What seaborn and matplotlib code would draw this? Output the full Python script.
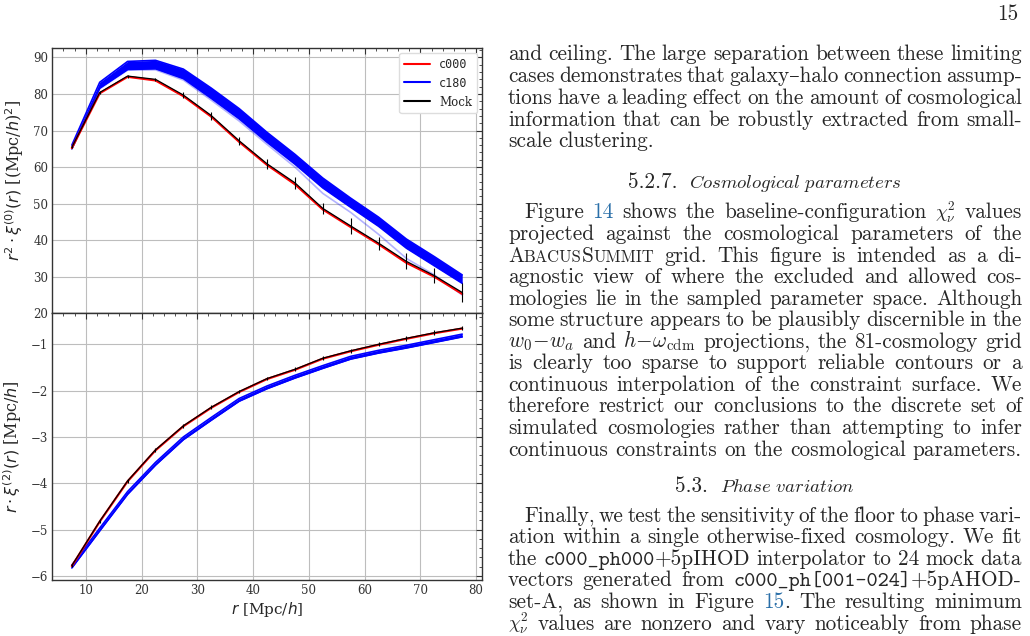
import matplotlib
matplotlib.use("Agg")
import matplotlib.pyplot as plt
import matplotlib.ticker as mticker
import seaborn as sns

# separation bins [Mpc/h]
r = [7.5, 12.5, 17.5, 22.5, 27.5, 32.5, 37.5, 42.5, 47.5, 52.5, 57.5, 62.5, 67.5, 72.5, 77.5]

# monopole r^2 xi0
mono_mock = [65.4, 80.4, 84.9, 84.0, 79.7, 74.1, 67.2, 60.9, 55.7, 48.7, 43.9, 39.2, 34.2, 30.3, 25.7]
mono_mock_err = [0.3, 0.3, 0.4, 0.5, 0.8, 1.1, 1.1, 1.3, 1.7, 1.6, 2.1, 1.8, 2.2, 2.1, 2.5]
mono_c000 = [65.2, 80.2, 84.7, 83.7, 79.4, 73.8, 66.9, 60.6, 55.3, 48.4, 43.6, 38.9, 33.8, 30.0, 25.3]
mono_c180_hi = [66.0, 83.2, 88.9, 89.2, 86.8, 81.6, 76.0, 69.5, 63.5, 57.0, 51.5, 46.3, 40.3, 35.5, 30.5]
mono_c180_lo = [65.0, 81.6, 86.7, 86.9, 84.2, 78.8, 73.2, 66.8, 60.8, 54.3, 49.0, 43.8, 37.8, 33.0, 28.2]
mono_c180_out = [65.0, 81.4, 86.5, 86.6, 83.8, 78.3, 72.6, 66.2, 60.0, 52.8, 47.6, 41.6, 35.0, 30.5, 25.0]

# quadrupole r xi2
quad_mock = [-5.78, -4.82, -3.95, -3.28, -2.76, -2.36, -2.02, -1.74, -1.54, -1.30, -1.14, -1.00, -0.87, -0.75, -0.65]
quad_mock_err = [0.04, 0.04, 0.04, 0.04, 0.04, 0.04, 0.04, 0.04, 0.04, 0.04, 0.04, 0.04, 0.05, 0.05, 0.05]
quad_c000 = [-5.79, -4.83, -3.96, -3.29, -2.77, -2.37, -2.03, -1.75, -1.55, -1.31, -1.15, -1.01, -0.88, -0.76, -0.66]
quad_c180_hi = [-5.77, -4.97, -4.18, -3.55, -3.00, -2.58, -2.17, -1.90, -1.67, -1.46, -1.26, -1.13, -1.02, -0.90, -0.78]
quad_c180_lo = [-5.83, -5.03, -4.24, -3.61, -3.06, -2.64, -2.23, -1.96, -1.73, -1.52, -1.32, -1.19, -1.08, -0.96, -0.84]

sns.set_theme(style="whitegrid")
plt.rcParams["font.family"] = ["DejaVu Serif"]
plt.rcParams.update({
    "axes.edgecolor": "#333333",
    "axes.linewidth": 1.0,
    "grid.color": "#bdbdbd",
    "grid.linewidth": 0.8,
    "xtick.direction": "in",
    "ytick.direction": "in",
    "xtick.color": "#333333",
    "ytick.color": "#333333",
})

W, H = 1030, 636
fig = plt.figure(figsize=(W / 100, H / 100), dpi=100)
fig.patch.set_facecolor("white")
ax1 = fig.add_axes([0.0508, 0.5074, 0.4169, 0.4167])
ax2 = fig.add_axes([0.0508, 0.0881, 0.4169, 0.4193])

RED, BLUE = "#ff0000", "#0000ff"

# --- monopole panel
ax1.fill_between(r, mono_c180_lo, mono_c180_hi, color=BLUE, lw=0, zorder=2)
sns.lineplot(x=r, y=mono_c180_out, ax=ax1, color=BLUE, lw=1.2, alpha=0.3, zorder=2)
sns.lineplot(x=r, y=mono_c180_hi, ax=ax1, color=BLUE, lw=1.2, zorder=2, label="c180")
sns.lineplot(x=r, y=mono_c180_lo, ax=ax1, color=BLUE, lw=1.2, zorder=2)
sns.lineplot(x=r, y=mono_c000, ax=ax1, color=RED, lw=1.6, zorder=3, label="c000")
sns.lineplot(x=r, y=mono_mock, ax=ax1, color="black", lw=0.9, zorder=4, label="Mock")
ax1.errorbar(r, mono_mock, yerr=mono_mock_err, fmt="none", ecolor="black", elinewidth=0.8, zorder=4)

# --- quadrupole panel
ax2.fill_between(r, quad_c180_lo, quad_c180_hi, color=BLUE, lw=0, zorder=2)
sns.lineplot(x=r, y=quad_c180_hi, ax=ax2, color=BLUE, lw=1.2, zorder=2)
sns.lineplot(x=r, y=quad_c180_lo, ax=ax2, color=BLUE, lw=1.2, zorder=2)
sns.lineplot(x=r, y=quad_c000, ax=ax2, color=RED, lw=1.6, zorder=3)
sns.lineplot(x=r, y=quad_mock, ax=ax2, color="black", lw=0.9, zorder=4)
ax2.errorbar(r, quad_mock, yerr=quad_mock_err, fmt="none", ecolor="black", elinewidth=0.8, zorder=4)

for ax in (ax1, ax2):
    ax.set_xlim(4, 81)
    ax.xaxis.set_major_locator(mticker.MultipleLocator(10))
    ax.xaxis.set_minor_locator(mticker.MultipleLocator(2))
    ax.tick_params(which="both", top=True, right=True, labelsize=8.5, pad=3)
    ax.tick_params(which="major", length=4, width=0.8)
    ax.tick_params(which="minor", length=2, width=0.6)
    ax.grid(True, which="major")
    ax.grid(False, which="minor")
    for s in ax.spines.values():
        s.set_color("#333333")

ax1.set_ylim(20, 92.5)
ax1.yaxis.set_major_locator(mticker.MultipleLocator(10))
ax1.yaxis.set_minor_locator(mticker.MultipleLocator(2))
ax1.tick_params(labelbottom=False)
ax1.set_ylabel(r"$r^2 \cdot \xi^{(0)}(r)$ [(Mpc/$h$)$^2$]", fontsize=11.5, labelpad=5)

ax2.set_ylim(-6.09, -0.33)
ax2.yaxis.set_major_locator(mticker.MultipleLocator(1))
ax2.yaxis.set_minor_locator(mticker.MultipleLocator(0.2))
ax2.set_ylabel(r"$r \cdot \xi^{(2)}(r)$ [Mpc/$h$]", fontsize=11.5, labelpad=5)
ax2.set_xlabel(r"$r$ [Mpc/$h$]", fontsize=11, labelpad=2)

handles, labels = ax1.get_legend_handles_labels()
order = [labels.index(k) for k in ["c000", "c180", "Mock"]]
leg = ax1.legend([handles[i] for i in order], [labels[i] for i in order],
                 loc="upper right", fontsize=8.5, handlelength=2.2,
                 borderaxespad=0.4, framealpha=1, edgecolor="#dddddd", fancybox=True)
for h in leg.legend_handles:
    h.set_linewidth(1.5)
leg.get_texts()[0].set_fontfamily("DejaVu Sans Mono")
leg.get_texts()[1].set_fontfamily("DejaVu Sans Mono")

# --- page text on the right
FS = 15.3
FAM = ["cmr10", "DejaVu Serif"]
TT = ["cmtt10", "DejaVu Sans Mono"]
LINK = "#2a6fa8"
X0, X1 = 508, 1022
renderer = fig.canvas.get_renderer()


def put_line(yc, words, x0=X0, x1=X1, justify=True):
    items = []
    for w in words:
        parts = w if isinstance(w, list) else [(w, {})]
        objs = []
        for s, kw in parts:
            opts = dict(fontsize=FS, family=FAM, math_fontfamily="cm", va="baseline", ha="left")
            opts.update(kw)
            objs.append(fig.text(0, 1 - (yc + 5.5) / H, s, **opts))
        widths = [o.get_window_extent(renderer).width for o in objs]
        items.append((objs, widths))
    total = sum(sum(wd) for _, wd in items)
    gap = 6.0
    if justify and len(items) > 1:
        gap = (x1 - x0 - total) / (len(items) - 1)
    x = x0
    for objs, wd in items:
        for o, w in zip(objs, wd):
            o.set_x(x / W)
            x += w
        x += gap


def heading(yc, num, title):
    t1 = fig.text(0, 1 - (yc + 5.5) / H, num, fontsize=FS, family=FAM, va="baseline")
    t2 = fig.text(0, 1 - (yc + 5.5) / H, title, fontsize=13.5, family=FAM, math_fontfamily="cm", va="baseline")
    w1 = t1.get_window_extent(renderer).width
    w2 = t2.get_window_extent(renderer).width
    x = (X0 + X1) / 2 - (w1 + 12 + w2) / 2
    t1.set_x(x / W)
    t2.set_x((x + w1 + 12) / W)


fig.text(1018 / W, 1 - 14 / H, "15", fontsize=FS, family=FAM, ha="right", va="center")

para1 = [
    "and ceiling. The large separation between these limiting",
    "cases demonstrates that galaxy\u2013halo connection assump-",
    "tions have a leading effect on the amount of cosmological",
    "information that can be robustly extracted from small-",
    "scale clustering.",
]
y = 55
for i, line in enumerate(para1):
    put_line(y + i * 21.7, line.split(), justify=(i < len(para1) - 1))

heading(183, "5.2.7.", r"$\mathit{Cosmological\ parameters}$")

sc = {"fontsize": FS * 0.78}
chi = [(r"$\chi^2_\nu$", {"fontsize": 13.5})]
para2 = [
    ["Figure", [("14", {"color": LINK})], "shows", "the", "baseline-configuration", chi, "values"],
    "projected against the cosmological parameters of the".split(),
    [[("A", {}), ("BACUS", sc), ("S", {}), ("UMMIT", sc)], "grid.", "This", "figure", "is", "intended", "as", "a", "di-"],
    "agnostic view of where the excluded and allowed cos-".split(),
    "mologies lie in the sampled parameter space. Although".split(),
    "some structure appears to be plausibly discernible in the".split(),
    [r"$w_0\!-\!w_a$", "and", r"$h\!-\!\omega_{\rm cdm}$", "projections,", "the", "81-cosmology", "grid"],
    "is clearly too sparse to support reliable contours or a".split(),
    "continuous interpolation of the constraint surface. We".split(),
    "therefore restrict our conclusions to the discrete set of".split(),
    "simulated cosmologies rather than attempting to infer".split(),
    "continuous constraints on the cosmological parameters.".split(),
]
y = 213
for i, words in enumerate(para2):
    put_line(y + i * 21.55, words, x0=X0 + 16 if i == 0 else X0)

heading(487, "5.3.", r"$\mathit{Phase\ variation}$")

para3 = [
    "Finally, we test the sensitivity of the floor to phase vari-".split(),
    "ation within a single otherwise-fixed cosmology. We fit".split(),
    ["the", [("c000_ph000", {"family": TT}), ("+5pIHOD", {})], "interpolator", "to", "24", "mock", "data"],
    ["vectors", "generated", "from", [("c000_ph[001-024]", {"family": TT}), ("+5pAHOD-", {})]],
    ["set-A,", "as", "shown", "in", "Figure", [("15", {"color": LINK}), (".", {})], "The", "resulting", "minimum"],
    [chi, "values", "are", "nonzero", "and", "vary", "noticeably", "from", "phase"],
]
y = 516
for i, words in enumerate(para3):
    put_line(y + i * 21.6, words, x0=X0 + 16 if i == 0 else X0)

fig.savefig("out.png", dpi=100, facecolor="white")
